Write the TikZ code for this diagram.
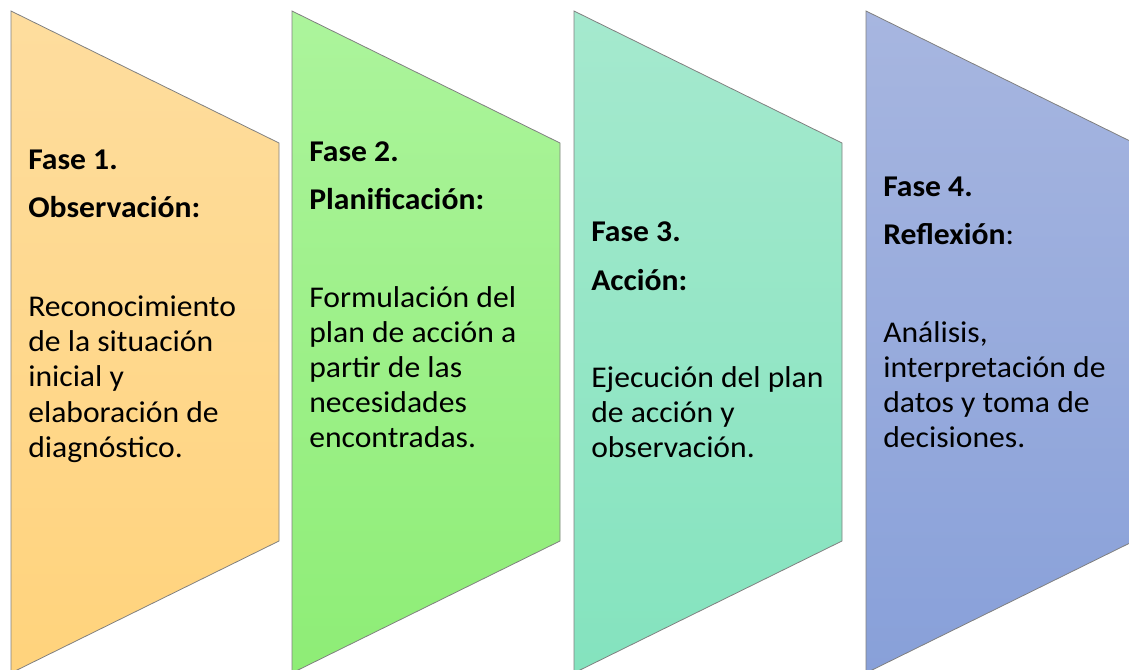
\documentclass[tikz,border=0pt]{standalone}
\usepackage{fontspec}
\setmainfont{Carlito}[FakeStretch=1.05]
\begin{document}
\begin{tikzpicture}[x=0.75pt,y=-0.75pt,
  txt/.style={anchor=base west, inner sep=0pt, text=black, font=\fontsize{22.6pt}{26pt}\selectfont},
  hd/.style={txt, font=\fontsize{22.6pt}{26pt}\selectfont\bfseries},
  phase/.style={draw=black!50, line width=0.6pt, line join=miter}]
\useasboundingbox (0,0) rectangle (1129,670);
\clip (0,0) rectangle (1129,670);
% shapes
\path[phase, top color={rgb,255:red,254;green,221;blue,158}, bottom color={rgb,255:red,255;green,211;blue,124}]
  (11,11) -- (279,143) -- (279,541) -- (11,673) -- cycle;
\path[phase, top color={rgb,255:red,172;green,244;blue,156}, bottom color={rgb,255:red,142;green,237;blue,118}]
  (292,11) -- (560,143) -- (560,541) -- (292,673) -- cycle;
\path[phase, top color={rgb,255:red,165;green,233;blue,206}, bottom color={rgb,255:red,132;green,227;blue,190}]
  (574,11) -- (842,143) -- (842,541) -- (574,673) -- cycle;
\path[phase, top color={rgb,255:red,167;green,182;blue,224}, bottom color={rgb,255:red,136;green,160;blue,217}]
  (866,11) -- (1134,143) -- (1134,541) -- (866,673) -- cycle;
% phase 1
\node[hd] (h1a) at (28,170) {Fase 1.};
\node[hd] (h1b) at (28,218) {Observación:};
\node[txt] (b1a) at (28,317) {Reconocimiento};
\node[txt] (b1b) at (28,352) {de la situación};
\node[txt] (b1c) at (28,387) {inicial y};
\node[txt] (b1d) at (28,422) {elaboración de};
\node[txt] (b1e) at (28,457) {diagnóstico.};
% phase 2
\node[hd] (h2a) at (309,162) {Fase 2.};
\node[hd] (h2b) at (309,210) {Planificación:};
\node[txt] (b2a) at (309,308) {Formulación del};
\node[txt] (b2b) at (309,343) {plan de acción a};
\node[txt] (b2c) at (309,378) {partir de las};
\node[txt] (b2d) at (309,413) {necesidades};
\node[txt] (b2e) at (309,447) {encontradas.};
% phase 3
\node[hd] (h3a) at (591,242) {Fase 3.};
\node[hd] (h3b) at (591,291) {Acción:};
\node[txt] (b3a) at (591,388) {Ejecución del plan};
\node[txt] (b3b) at (591,423) {de acción y};
\node[txt] (b3c) at (591,458) {observación.};
% phase 4
\node[hd] (h4a) at (883,197) {Fase 4.};
\node[txt] (h4b) at (883,245) {\textbf{Reflexión}:};
\node[txt] (b4a) at (883,343) {Análisis,};
\node[txt] (b4b) at (883,378) {interpretación de};
\node[txt] (b4c) at (883,413) {datos y toma de};
\node[txt] (b4d) at (883,448) {decisiones.};
\end{tikzpicture}
\end{document}
